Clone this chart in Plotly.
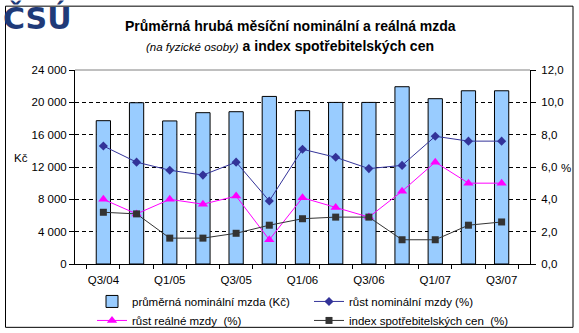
import plotly.graph_objects as go

# Quarterly data, Q3/2004 - Q3/2007
quarters = ["Q3/04", "Q4/04", "Q1/05", "Q2/05", "Q3/05", "Q4/05", "Q1/06",
            "Q2/06", "Q3/06", "Q4/06", "Q1/07", "Q2/07", "Q3/07"]
nominal_wage = [17730, 19950, 17700, 18720, 18840, 20730, 18970,
                19990, 19990, 21930, 20450, 21430, 21430]
nominal_growth = [7.3, 6.3, 5.8, 5.5, 6.3, 3.9, 7.1, 6.6, 5.9, 6.1, 7.9, 7.6, 7.6]
real_growth = [4.0, 3.1, 4.0, 3.7, 4.2, 1.5, 4.1, 3.5, 2.9, 4.5, 6.3, 5.0, 5.0]
cpi = [3.2, 3.1, 1.6, 1.6, 1.9, 2.4, 2.8, 2.9, 2.9, 1.5, 1.5, 2.4, 2.6]
shown_ticks = ["Q3/04", "Q1/05", "Q3/05", "Q1/06", "Q3/06", "Q1/07", "Q3/07"]

FONT = "Liberation Sans, Arial, sans-serif"
W, H = 579, 333
L, R, T, B = 75, 49, 69.5, 69
pw, ph = W - L - R, H - T - B


def px_x(x):
    return (x - L) / pw


def px_y(y):
    return (H - B - y) / ph


fig = go.Figure()
fig.add_trace(go.Bar(
    x=quarters, y=nominal_wage, name="průměrná nominální mzda (Kč)",
    marker=dict(color="#99CCFF", line=dict(color="black", width=1)),
    yaxis="y",
))
fig.add_trace(go.Scatter(
    x=quarters, y=nominal_growth, name="růst nominální mzdy (%)",
    mode="lines+markers", yaxis="y2",
    line=dict(color="#333399", width=1),
    marker=dict(symbol="diamond", size=7, color="#333399"),
))
fig.add_trace(go.Scatter(
    x=quarters, y=real_growth, name="růst reálné mzdy  (%)",
    mode="lines+markers", yaxis="y2",
    line=dict(color="#FF00FF", width=1),
    marker=dict(symbol="triangle-up", size=9, color="#FF00FF"),
))
fig.add_trace(go.Scatter(
    x=quarters, y=cpi, name="index spotřebitelských cen  (%)",
    mode="lines+markers", yaxis="y2",
    line=dict(color="#333333", width=1),
    marker=dict(symbol="square", size=7, color="#333333"),
))

annotations = [
    dict(x=px_x(290), y=px_y(25), xref="paper", yref="paper",
         xanchor="center", yanchor="middle",
         text="<b>Průměrná hrubá měsíční nominální a reálná mzda</b>",
         showarrow=False, font=dict(size=14, color="black", family=FONT)),
    dict(x=px_x(290), y=px_y(45), xref="paper", yref="paper",
         xanchor="center", yanchor="middle",
         text="<span style='font-size:11.5px'><i>(na fyzické osoby)</i></span> "
              "<b>a index spotřebitelských cen</b>",
         showarrow=False, font=dict(size=14, color="black", family=FONT)),
    dict(x=px_x(21), y=px_y(158), xref="paper", yref="paper", text="Kč",
         xanchor="center", yanchor="middle",
         showarrow=False, font=dict(size=11.5, color="black", family=FONT)),
    dict(x=px_x(566), y=px_y(168), xref="paper", yref="paper", text="%",
         xanchor="center", yanchor="middle",
         showarrow=False, font=dict(size=11.5, color="black", family=FONT)),
    dict(x=px_x(1), y=px_y(-3), xref="paper", yref="paper", text="<b>ČSÚ</b>",
         xanchor="left", yanchor="top", showarrow=False,
         font=dict(size=30, color="#1F3A78", family="DejaVu Sans, sans-serif")),
]

shapes = [
    # outer frame of the chart
    dict(type="rect", xref="paper", yref="paper",
         x0=px_x(5.5), x1=px_x(573), y0=px_y(327.5), y1=px_y(5.5),
         line=dict(color="black", width=1), fillcolor="rgba(0,0,0,0)"),
    # top edge of the plot area
    dict(type="line", xref="paper", yref="paper", x0=0, x1=1, y0=1, y1=1,
         line=dict(color="#808080", width=1)),
]

fig.update_layout(
    width=W, height=H,
    margin=dict(l=L, r=R, t=T, b=B, autoexpand=False),
    paper_bgcolor="white", plot_bgcolor="white",
    separators=", ",
    font=dict(family=FONT, size=11.5, color="black"),
    bargap=0.57,
    showlegend=True,
    legend=dict(
        orientation="h", x=px_x(92), y=px_y(287), xanchor="left", yanchor="top",
        entrywidth=172, entrywidthmode="pixels",
        font=dict(size=11.5, family=FONT), bgcolor="rgba(0,0,0,0)",
        tracegroupgap=0, itemwidth=30,
    ),
    xaxis=dict(
        type="category", tickson="boundaries", tickvals=quarters,
        ticktext=[q if q in shown_ticks else "" for q in quarters],
        tickangle=0, ticklabelstandoff=5,
        ticks="outside", ticklen=4, tickcolor="black",
        showline=True, linecolor="black", linewidth=1,
        showgrid=False, zeroline=False,
    ),
    yaxis=dict(
        range=[0, 24000], tickvals=[0, 4000, 8000, 12000, 16000, 20000, 24000],
        tickformat=",d", ticks="outside", ticklen=5, tickcolor="black",
        showline=True, linecolor="black", linewidth=1,
        showgrid=True, gridcolor="black", griddash="4px,3px", gridwidth=1,
        zeroline=False,
    ),
    yaxis2=dict(
        range=[0, 12], tickvals=[0, 2, 4, 6, 8, 10, 12], tickformat=".1f",
        overlaying="y", side="right", ticks="outside", ticklen=5,
        ticklabelstandoff=3,
        tickcolor="black", showline=True, linecolor="black", linewidth=1,
        showgrid=False, zeroline=False,
    ),
    annotations=annotations,
    shapes=shapes,
)

fig.write_html("out.html")
